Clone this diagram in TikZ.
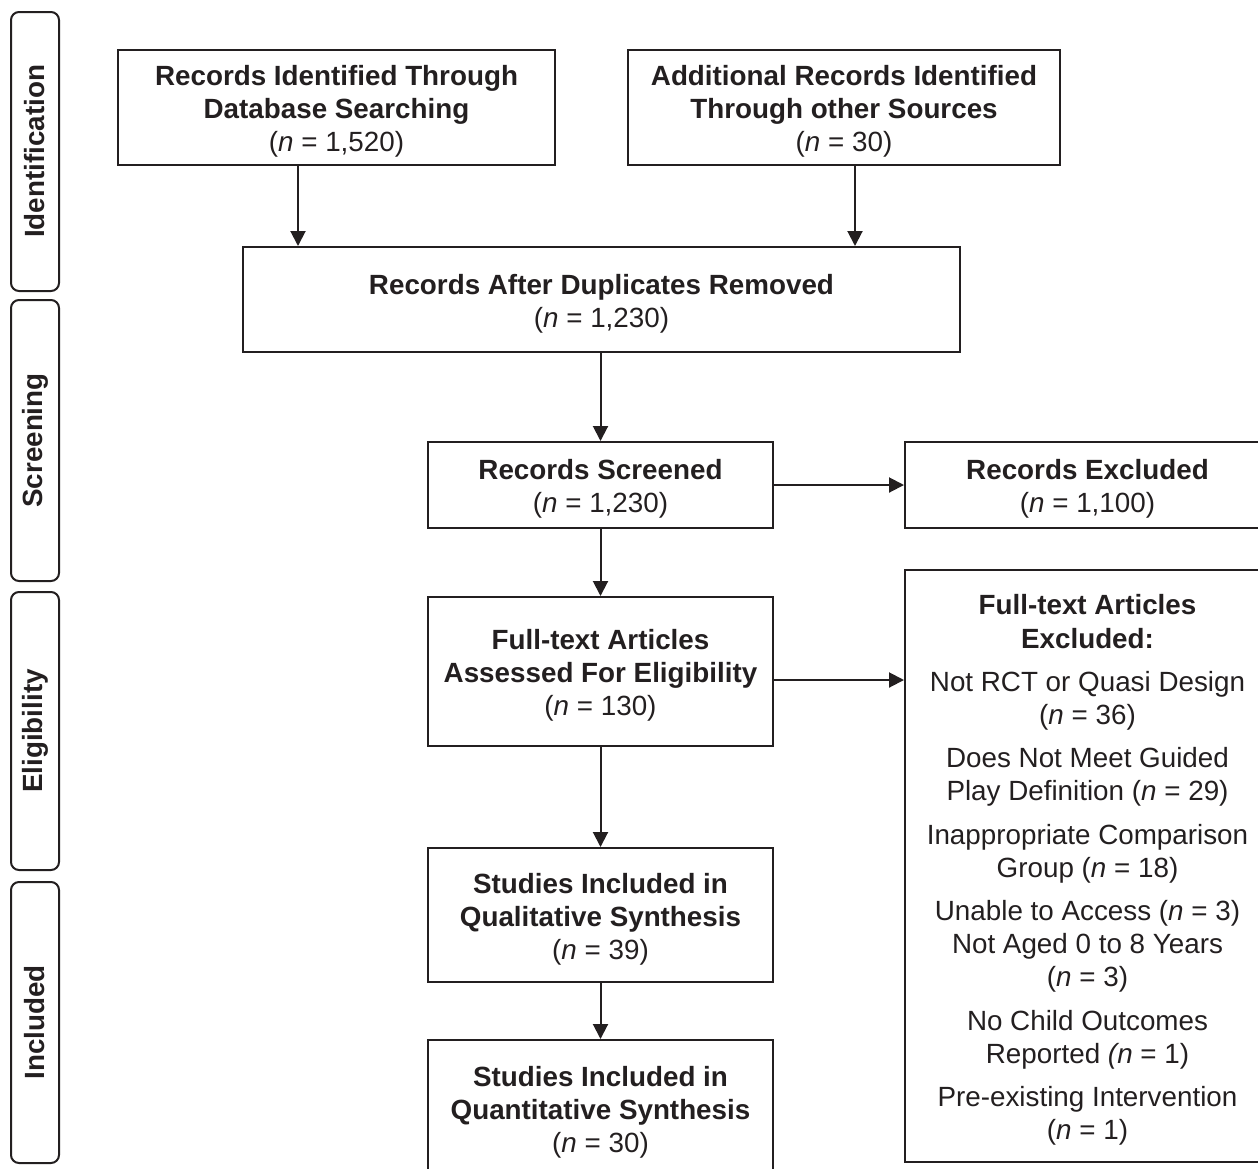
\documentclass[tikz,border=0pt]{standalone}
\usepackage{fontspec}
\setmainfont{Liberation Sans}
\usetikzlibrary{arrows.meta}
\definecolor{tinta}{HTML}{231F20}
\newcommand{\arriba}{\rule{0pt}{14.1pt}}
\begin{document}
\begin{tikzpicture}[
    x=0.5pt, y=-0.5pt,
    caja/.style={rectangle, draw=tinta, line width=1pt, align=center, text=tinta, inner sep=0pt, font=\fontsize{13.9}{16.6}\selectfont},
    fase/.style={rectangle, draw=tinta, line width=1pt, rounded corners=4pt, rotate=90, minimum height=24pt, text=tinta, font=\fontsize{13.9}{16.6}\selectfont\bfseries},
    flujo/.style={-{Triangle[length=7.5pt,width=7.5pt]}, line width=1pt, draw=tinta},
]
\useasboundingbox (0,0) rectangle (1258,1168);

\node (identificacion) [fase, minimum width=139.5pt] at (35,151.5) {Identification};
\node (cribado) [fase, minimum width=140.5pt] at (35,440.5) {Screening};
\node (elegibilidad) [fase, minimum width=139pt] at (35,731) {Eligibility};
\node (incluidos) [fase, minimum width=140.5pt] at (35,1022.5) {Included};

\node (basedatos) [caja, minimum width=218.5pt, minimum height=57.5pt] at (336.5,107.5) {\arriba\textbf{Records Identified Through}\\\textbf{Database Searching}\\(\textit{n} = 1,520)};

\node (otras) [caja, minimum width=216pt, minimum height=57.5pt] at (844,107.5) {\arriba\textbf{Additional Records Identified}\\\textbf{Through other Sources}\\(\textit{n} = 30)};

\node (duplicados) [caja, minimum width=358.5pt, minimum height=52.5pt] at (601.5,299.5) {\arriba\textbf{Records After Duplicates Removed}\\(\textit{n} = 1,230)};

\node (cribados) [caja, minimum width=172.5pt, minimum height=43pt] at (600.5,485) {\arriba\textbf{Records Screened}\\(\textit{n} = 1,230)};

\node (excluidos) [caja, minimum width=182.5pt, minimum height=43pt] at (1087.5,485) {\arriba\textbf{Records Excluded}\\(\textit{n} = 1,100)};

\node (textocompleto) [caja, minimum width=172.5pt, minimum height=74.5pt] at (600.5,671.5) {\arriba\textbf{Full-text Articles}\\\textbf{Assessed For Eligibility}\\(\textit{n} = 130)};

\node (motivos) [caja, minimum width=182.5pt, minimum height=296pt] at (1087.5,866) {\arriba\textbf{Full-text Articles}\\\textbf{Excluded:}\\[5pt]
Not RCT or Quasi Design\\(\textit{n} = 36)\\[5pt]
Does Not Meet Guided\\Play Definition (\textit{n} = 29)\\[5pt]
Inappropriate Comparison\\Group (\textit{n} = 18)\\[5pt]
Unable to Access (\textit{n} = 3)\\Not Aged 0 to 8 Years\\(\textit{n} = 3)\\[5pt]
No Child Outcomes\\Reported \textit{(n} = 1)\\[5pt]
Pre-existing Intervention\\(\textit{n} = 1)};

\node (cualitativa) [caja, minimum width=172.5pt, minimum height=67pt] at (600.5,915) {\arriba\textbf{Studies Included in}\\\textbf{Qualitative Synthesis}\\(\textit{n} = 39)};

\node (cuantitativa) [caja, minimum width=172.5pt, minimum height=68pt] at (600.5,1108) {\arriba\textbf{Studies Included in}\\\textbf{Quantitative Synthesis}\\(\textit{n} = 30)};

\draw [flujo] (298,0 |- basedatos.south) -- (298,0 |- duplicados.north);
\draw [flujo] (855,0 |- otras.south) -- (855,0 |- duplicados.north);
\draw [flujo] (cribados.north |- duplicados.south) -- (cribados.north);
\draw [flujo] (cribados) -- (textocompleto);
\draw [flujo] (textocompleto) -- (cualitativa);
\draw [flujo] (cualitativa) -- (cuantitativa);
\draw [flujo] (cribados.east) -- (excluidos.west);
\draw [flujo] (textocompleto.east |- 0,680) -- (motivos.west |- 0,680);

\end{tikzpicture}
\end{document}
